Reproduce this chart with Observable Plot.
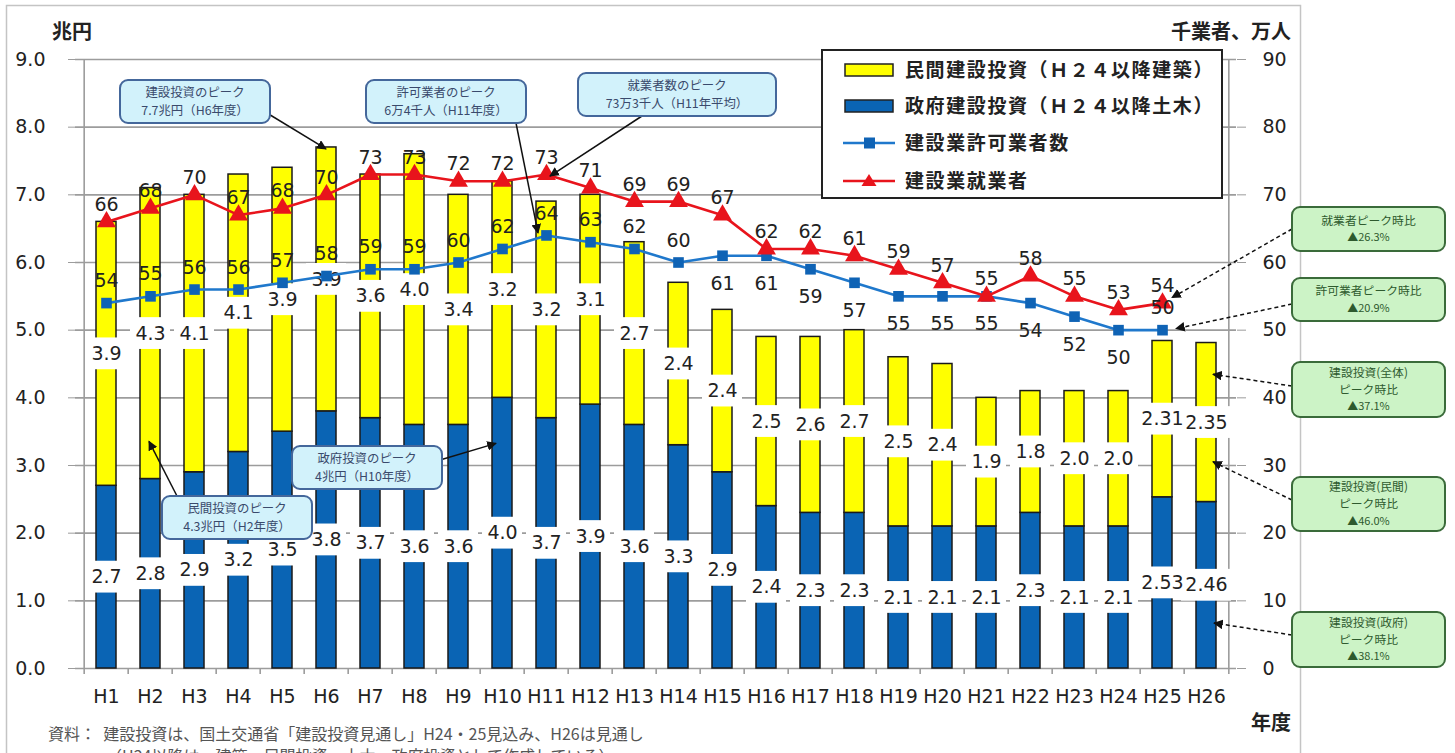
<!DOCTYPE html>
<html><head><meta charset="utf-8">
<script src="https://cdn.jsdelivr.net/npm/d3@7"></script>
<script src="https://cdn.jsdelivr.net/npm/@observablehq/plot@0.6"></script>
<style>
html,body{margin:0;padding:0;background:#fff;overflow:hidden}
#chart{position:relative;width:1455px;height:753px}
</style></head><body><div id="chart"></div>
<script>
// ---- data ----
const years = ["H1","H2","H3","H4","H5","H6","H7","H8","H9","H10","H11","H12","H13","H14","H15","H16","H17","H18","H19","H20","H21","H22","H23","H24","H25","H26"];
const govInvest  = [2.7,2.8,2.9,3.2,3.5,3.8,3.7,3.6,3.6,4.0,3.7,3.9,3.6,3.3,2.9,2.4,2.3,2.3,2.1,2.1,2.1,2.3,2.1,2.1,2.53,2.46];
const privInvest = [3.9,4.3,4.1,4.1,3.9,3.9,3.6,4.0,3.4,3.2,3.2,3.1,2.7,2.4,2.4,2.5,2.6,2.7,2.5,2.4,1.9,1.8,2.0,2.0,2.31,2.35];
const permitHolders = [54,55,56,56,57,58,59,59,60,62,64,63,62,60,61,61,59,57,55,55,55,54,52,50,50,null]; // 千業者
const workers       = [66,68,70,67,68,70,73,73,72,72,73,71,69,69,67,62,62,61,59,57,55,58,55,53,54,null]; // 万人
const leftTicks  = [0,1,2,3,4,5,6,7,8,9];           // 兆円
const rightTicks = [0,10,20,30,40,50,60,70,80,90];  // 千業者、万人
const seriesNames = ["民間建設投資（Ｈ２４以降建築）","政府建設投資（Ｈ２４以降土木）","建設業許可業者数","建設業就業者"];

// ---- colours / layout ----
const YELLOW = "#ffff00", BLUE = "#0a64b4", LBLUE = "#1f78cc", SQ = "#0f63b5", RED = "#e8141c";
const W = 1455, H = 753, ML = 75, MR = 219, MT = 59, MB = 85;
const step = (W - ML - MR) / years.length;
const idx = d3.range(years.length);
const fmt = v => { const s = String(v); return s.includes(".") ? s : v.toFixed(1); };
const permIdx = idx.filter(i => permitHolders[i] != null);
const workIdx = idx.filter(i => workers[i] != null);
const permAbove = permIdx.filter(i => i <= 13 || i === 24);
const permBelow = permIdx.filter(i => !(i <= 13 || i === 24));
const govMid = i => govInvest[i] / 2;
const privMid = i => govInvest[i] + privInvest[i] / 2;
const labelBoxes = (mid, vals) => {
  const short = idx.filter(i => fmt(vals[i]).length <= 3), long = idx.filter(i => fmt(vals[i]).length > 3);
  return [
    Plot.barY(short, {x: i => years[i], y1: i => mid(i) - 0.235, y2: i => mid(i) + 0.235, fill: "white", insetLeft: -10, insetRight: -10}),
    Plot.barY(long,  {x: i => years[i], y1: i => mid(i) - 0.235, y2: i => mid(i) + 0.235, fill: "white", insetLeft: -15, insetRight: -15})
  ];
};

const plot = Plot.plot({
  width: W, height: H,
  marginLeft: ML, marginRight: MR, marginTop: MT, marginBottom: MB,
  style: {fontFamily: "'DejaVu Sans', Verdana, sans-serif", fontSize: "19px", color: "#222", background: "transparent", overflow: "visible"},
  x: {type: "band", domain: years, paddingInner: 0.55, paddingOuter: 0.275, label: null},
  y: {domain: [0, 9], label: null},
  marks: [
    Plot.ruleY(leftTicks, {stroke: "#9c9c9c", strokeWidth: 1.6}),
    Plot.ruleX([years[0]], {dx: -step / 2, stroke: "#9c9c9c", strokeWidth: 1.6}),
    Plot.ruleX([years[years.length - 1]], {dx: step / 2, stroke: "#9c9c9c", strokeWidth: 1.6}),
    Plot.ruleX(years, {x: d => d, dx: -step / 2, y1: 0, y2: -0.09, stroke: "#9c9c9c", strokeWidth: 1.6}),
    Plot.ruleX([years[years.length - 1]], {x: d => d, dx: step / 2, y1: 0, y2: -0.09, stroke: "#9c9c9c", strokeWidth: 1.6}),
    Plot.axisY(leftTicks, {anchor: "left", tickSize: 7, tickPadding: 23, tickFormat: d3.format(".1f"), stroke: "#9c9c9c", fill: "#222", fontSize: 19, label: null}),
    Plot.axisY(leftTicks, {anchor: "right", tickSize: 9, tickPadding: 17, tickFormat: d => rightTicks[leftTicks.indexOf(d)], stroke: "#9c9c9c", fill: "#222", fontSize: 19, label: null}),
    Plot.axisX({tickSize: 0, tickPadding: 21, fontSize: 19, fill: "#222", label: null}),
    // bars
    Plot.barY(idx, {x: i => years[i], y1: 0, y2: i => govInvest[i], fill: BLUE, stroke: "#1a1a1a", strokeWidth: 1.5}),
    Plot.barY(idx, {x: i => years[i], y1: i => govInvest[i], y2: i => govInvest[i] + privInvest[i], fill: YELLOW, stroke: "#1a1a1a", strokeWidth: 1.5}),
    ...labelBoxes(govMid, govInvest),
    ...labelBoxes(privMid, privInvest),
    Plot.text(idx, {x: i => years[i], y: govMid, text: i => fmt(govInvest[i]), fontSize: 19, fill: "#222"}),
    Plot.text(idx, {x: i => years[i], y: privMid, text: i => fmt(privInvest[i]), fontSize: 19, fill: "#222"}),
    // lines
    Plot.line(permIdx, {x: i => years[i], y: i => permitHolders[i] / 10, stroke: LBLUE, strokeWidth: 2.6}),
    Plot.dot(permIdx, {x: i => years[i], y: i => permitHolders[i] / 10, symbol: "square", r: 6, fill: SQ}),
    Plot.line(workIdx, {x: i => years[i], y: i => workers[i] / 10, stroke: RED, strokeWidth: 2.6}),
    Plot.dot(workIdx, {x: i => years[i], y: i => workers[i] / 10, symbol: "triangle", r: 7, fill: RED}),
    Plot.text(workIdx, {x: i => years[i], y: i => workers[i] / 10, text: i => String(workers[i]), dy: -17, fontSize: 19, fill: "#222"}),
    Plot.text(permAbove, {x: i => years[i], y: i => permitHolders[i] / 10, text: i => String(permitHolders[i]), dy: -22, fontSize: 19, fill: "#222"}),
    Plot.text(permBelow, {x: i => years[i], y: i => permitHolders[i] / 10, text: i => String(permitHolders[i]), dy: 28, fontSize: 19, fill: "#222"})
  ]
});
document.getElementById("chart").appendChild(plot);

// ---- annotations ----
const svg = d3.select(plot);
const xs = plot.scale("x"), ys = plot.scale("y");
const bw = xs.bandwidth != null ? xs.bandwidth : step * 0.45;
const cx = i => xs.apply(years[i]) + bw / 2;
const py = v => ys.apply(v);
const JP = "'Noto Sans CJK JP', 'Noto Sans', sans-serif";

svg.insert("rect", ":first-child").attr("x", 6.5).attr("y", 5.5).attr("width", 1294).attr("height", 800)
  .attr("fill", "none").attr("stroke", "#c4c4c4").attr("stroke-width", 1.5);

const defs = svg.append("defs");
defs.append("marker").attr("id", "ah").attr("viewBox", "0 0 10 10").attr("refX", 9).attr("refY", 5)
  .attr("markerWidth", 6.5).attr("markerHeight", 6.5).attr("orient", "auto")
  .append("path").attr("d", "M0,0L10,5L0,10z").attr("fill", "#111");

const txt = (x, y, t, o = {}) => svg.append("text").attr("x", x).attr("y", y)
  .attr("text-anchor", o.anchor || "start").attr("font-family", JP).attr("font-size", o.size || 20)
  .attr("font-weight", o.weight || "normal").attr("fill", o.fill || "#222").text(t);

// axis titles
txt(52, 39, "兆円", {weight: "bold"});
txt(1291, 39, "千業者、万人", {anchor: "end", weight: "bold"});
txt(1291, 730, "年度", {anchor: "end", weight: "bold"});

// caption
txt(48, 740, "資料：  建設投資は、国土交通省「建設投資見通し」H24・25見込み、H26は見通し", {size: 16, fill: "#555"});
txt(106, 762, "（H24以降は、建築＝民間投資、土木＝政府投資として作成している）", {size: 16, fill: "#555"});

// legend
const lg = svg.append("g");
lg.append("rect").attr("x", 822).attr("y", 50).attr("width", 400).attr("height", 148).attr("fill", "white").attr("stroke", "#222").attr("stroke-width", 2);
const ly = [70, 106, 143, 181];
lg.append("rect").attr("x", 845).attr("y", ly[0] - 6).attr("width", 48).attr("height", 12).attr("fill", YELLOW).attr("stroke", "#222").attr("stroke-width", 1.5);
lg.append("rect").attr("x", 845).attr("y", ly[1] - 6).attr("width", 48).attr("height", 12).attr("fill", BLUE).attr("stroke", "#222").attr("stroke-width", 1.5);
lg.append("line").attr("x1", 843).attr("x2", 895).attr("y1", ly[2]).attr("y2", ly[2]).attr("stroke", LBLUE).attr("stroke-width", 2.6);
lg.append("rect").attr("x", 864).attr("y", ly[2] - 5.5).attr("width", 11).attr("height", 11).attr("fill", SQ);
lg.append("line").attr("x1", 843).attr("x2", 895).attr("y1", ly[3]).attr("y2", ly[3]).attr("stroke", RED).attr("stroke-width", 2.6);
lg.append("path").attr("d", `M869,${ly[3] - 7}L876.5,${ly[3] + 5}L861.5,${ly[3] + 5}Z`).attr("fill", RED);
seriesNames.forEach((t, k) => lg.append("text").attr("x", 905).attr("y", ly[k]).attr("dy", "0.36em").attr("text-anchor", "start")
  .attr("font-family", JP).attr("font-size", 19).attr("font-weight", "bold").attr("letter-spacing", 1.6).attr("fill", "#222").text(t));

function callout(lines, box, from, to, kind) {
  const g = svg.append("g");
  const green = kind === "green";
  g.append("line").attr("x1", from[0]).attr("y1", from[1]).attr("x2", to[0]).attr("y2", to[1])
    .attr("stroke", "#111").attr("stroke-width", 1.5).attr("stroke-dasharray", green ? "4,3" : null).attr("marker-end", "url(#ah)");
  g.append("rect").attr("x", box[0]).attr("y", box[1]).attr("width", box[2]).attr("height", box[3]).attr("rx", 8)
    .attr("fill", green ? "#ccf3c6" : "#d2f2fb").attr("stroke", green ? "#3a6b3a" : "#44679b").attr("stroke-width", 2);
  const lh = green ? 17 : 18;
  lines.forEach((t, k) => g.append("text").attr("x", box[0] + box[2] / 2).attr("y", box[1] + box[3] / 2 + (k - (lines.length - 1) / 2) * lh)
    .attr("dy", "0.35em").attr("text-anchor", "middle").attr("font-family", JP).attr("font-size", t.startsWith("▲") ? 11 : (green ? 11.8 : 12.4))
    .attr("fill", green ? "#2e5a2e" : "#3a4a6c").text(t));
}
const iH6 = years.indexOf("H6"), iH11 = years.indexOf("H11"), iH10 = years.indexOf("H10"), iH2 = years.indexOf("H2");
const iL = years.length - 1, iP = workIdx[workIdx.length - 1];
callout(["建設投資のピーク", "7.7兆円（H6年度）"], [120, 80, 150, 43], [262, 110], [cx(iH6), py(govInvest[iH6] + privInvest[iH6]) + 2]);
callout(["許可業者のピーク", "6万4千人（H11年度）"], [366, 80, 160, 43], [515, 118], [cx(iH11) - 8, py(permitHolders[iH11] / 10) - 2]);
callout(["就業者数のピーク", "73万3千人（H11年平均）"], [578, 73, 198, 43], [642, 116], [cx(iH11) + 4, py(workers[iH11] / 10) + 2]);
callout(["政府投資のピーク", "4兆円（H10年度）"], [292, 446, 150, 43], [440, 460], [cx(iH10) - 6, py(govInvest[iH10] * 0.83)]);
callout(["民間投資のピーク", "4.3兆円（H2年度）"], [162, 496, 150, 43], [178, 498], [cx(iH2) - 1, py(govInvest[iH2] + 0.55)]);

callout(["就業者ピーク時比", "▲26.3%"], [1292, 207, 153, 44], [1292, 229], [cx(iP) + 10, py(workers[iP] / 10) - 5], "green");
callout(["許可業者ピーク時比", "▲20.9%"], [1292, 278, 153, 43], [1292, 304], [cx(iP) + 14, py(permitHolders[iP] / 10) - 1], "green");
callout(["建設投資(全体)", "ピーク時比", "▲37.1%"], [1292, 362, 153, 55], [1292, 386], [cx(iL) + 7, py(govInvest[iL] + privInvest[iL] * 0.8)], "green");
callout(["建設投資(民間)", "ピーク時比", "▲46.0%"], [1292, 477, 153, 54], [1292, 500], [cx(iL) + 7, py(govInvest[iL] + privInvest[iL] * 0.25)], "green");
callout(["建設投資(政府)", "ピーク時比", "▲38.1%"], [1292, 612, 153, 55], [1292, 635], [cx(iL) + 8, py(govInvest[iL] * 0.27)], "green");
</script>
</body></html>
